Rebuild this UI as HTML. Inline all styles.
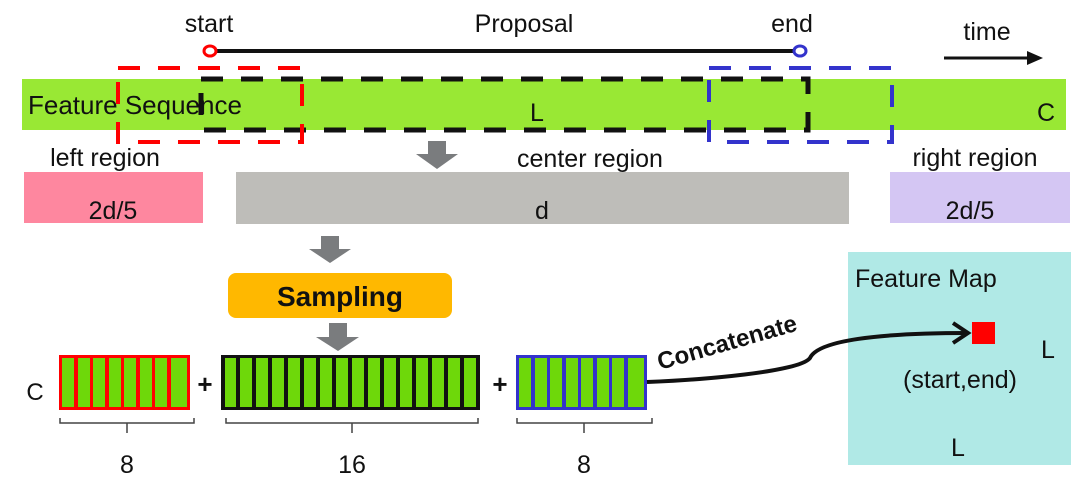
<!DOCTYPE html>
<html><head><meta charset="utf-8"><style>
body{margin:0;background:#fff}
svg{display:block}
text{font-family:"Liberation Sans",Arial,sans-serif;fill:#111}
</style></head><body>
<svg width="1083" height="490" viewBox="0 0 1083 490" xmlns="http://www.w3.org/2000/svg">
<!-- top labels -->
<text x="209" y="32" font-size="25" text-anchor="middle">start</text>
<text x="524" y="32" font-size="25" text-anchor="middle">Proposal</text>
<text x="792" y="32" font-size="25" text-anchor="middle">end</text>
<text x="987" y="40" font-size="25" text-anchor="middle">time</text>
<line x1="215" y1="51" x2="794" y2="51" stroke="#111" stroke-width="4"/>
<ellipse cx="210" cy="51" rx="6" ry="5" fill="#fff" stroke="#f00" stroke-width="3"/>
<ellipse cx="800" cy="51" rx="6" ry="5" fill="#fff" stroke="#33c" stroke-width="3"/>
<line x1="944" y1="58" x2="1030" y2="58" stroke="#111" stroke-width="3"/>
<polygon points="1043,58 1027,51 1027,65" fill="#111"/>
<!-- feature sequence -->
<rect x="22" y="79" width="1044" height="51" fill="#99e834"/>
<text x="28" y="114" font-size="26">Feature Sequence</text>
<text x="537" y="121" font-size="25" text-anchor="middle">L</text>
<text x="1046" y="121" font-size="25" text-anchor="middle">C</text>
<rect x="201" y="79" width="607" height="51" fill="none" stroke="#111" stroke-width="5" stroke-dasharray="22,18"/>
<rect x="118" y="68" width="184" height="74" fill="none" stroke="#f00" stroke-width="4" stroke-dasharray="22,18"/>
<rect x="709" y="68" width="183" height="74" fill="none" stroke="#33c" stroke-width="4" stroke-dasharray="22,18"/>
<!-- regions -->
<text x="105" y="166" font-size="25" text-anchor="middle">left region</text>
<text x="590" y="167" font-size="25" text-anchor="middle">center region</text>
<text x="975" y="166" font-size="25" text-anchor="middle">right region</text>
<rect x="24" y="172" width="179" height="51" fill="#fe879f"/>
<rect x="236" y="172" width="613" height="52" fill="#bebdb9"/>
<rect x="890" y="172" width="180" height="51" fill="#d4c6f3"/>
<text x="113" y="219" font-size="25" text-anchor="middle">2d/5</text>
<text x="542" y="219" font-size="25" text-anchor="middle">d</text>
<text x="970" y="219" font-size="25" text-anchor="middle">2d/5</text>
<!-- gray arrows -->
<polygon points="428,141 446,141 446,154 458,154 437,169 416,154 428,154" fill="#7a7c7e"/>
<polygon points="321,236 339,236 339,249 351,249 330,263 309,249 321,249" fill="#7a7c7e"/>
<polygon points="329,323 347,323 347,337 359,337 338,351 316,337 329,337" fill="#7a7c7e"/>
<!-- sampling -->
<rect x="228" y="273" width="224" height="45" rx="8" fill="#ffb800"/>
<text x="340" y="306" font-size="28" font-weight="bold" text-anchor="middle">Sampling</text>
<!-- feature vectors -->
<text x="35" y="400" font-size="24" text-anchor="middle">C</text>
<text x="205" y="393" font-size="26" font-weight="bold" text-anchor="middle">+</text>
<text x="500" y="393" font-size="26" font-weight="bold" text-anchor="middle">+</text>
<rect x="59" y="355" width="131" height="55" fill="#f00"/>
<g fill="#6ed80a">
<rect x="62" y="358" width="12" height="49"/><rect x="78" y="358" width="12" height="49"/><rect x="93" y="358" width="12" height="49"/><rect x="109" y="358" width="12" height="49"/><rect x="124" y="358" width="12" height="49"/><rect x="140" y="358" width="12" height="49"/><rect x="155" y="358" width="12" height="49"/><rect x="171" y="358" width="16" height="49"/>
</g>
<rect x="221" y="355" width="259" height="55" fill="#111"/>
<g fill="#6ed80a">
<rect x="225" y="358" width="11" height="49"/><rect x="240" y="358" width="12" height="49"/><rect x="256" y="358" width="12" height="49"/><rect x="272" y="358" width="12" height="49"/><rect x="288" y="358" width="12" height="49"/><rect x="304" y="358" width="12" height="49"/><rect x="320" y="358" width="12" height="49"/><rect x="336" y="358" width="12" height="49"/><rect x="352" y="358" width="12" height="49"/><rect x="368" y="358" width="12" height="49"/><rect x="384" y="358" width="12" height="49"/><rect x="400" y="358" width="12" height="49"/><rect x="416" y="358" width="12" height="49"/><rect x="432" y="358" width="12" height="49"/><rect x="448" y="358" width="12" height="49"/><rect x="464" y="358" width="12" height="49"/>
</g>
<rect x="516" y="355" width="131" height="55" fill="#33c"/>
<g fill="#6ed80a">
<rect x="519" y="358" width="12" height="49"/><rect x="535" y="358" width="12" height="49"/><rect x="550" y="358" width="12" height="49"/><rect x="566" y="358" width="12" height="49"/><rect x="581" y="358" width="12" height="49"/><rect x="597" y="358" width="12" height="49"/><rect x="612" y="358" width="12" height="49"/><rect x="628" y="358" width="16" height="49"/>
</g>
<!-- braces -->
<g fill="none" stroke="#444" stroke-width="1.5">
<path d="M60,418 v5 h134 v-5 M127,423 v10"/>
<path d="M226,418 v5 h252 v-5 M352,423 v10"/>
<path d="M517,418 v5 h135 v-5 M584,423 v10"/>
</g>
<text x="127" y="473" font-size="25" text-anchor="middle">8</text>
<text x="352" y="473" font-size="25" text-anchor="middle">16</text>
<text x="584" y="473" font-size="25" text-anchor="middle">8</text>
<!-- feature map -->
<rect x="848" y="252" width="223" height="213" fill="#b0e9e6"/>
<text x="855" y="287" font-size="25">Feature Map</text>
<rect x="972" y="322" width="23" height="22" fill="#f00"/>
<text x="960" y="388" font-size="25" text-anchor="middle">(start,end)</text>
<text x="1048" y="358" font-size="25" text-anchor="middle">L</text>
<text x="958" y="456" font-size="25" text-anchor="middle">L</text>
<!-- concatenate -->
<path d="M647,382 C700,380 800,372 810,358 C818,340 880,333 968,333" fill="none" stroke="#111" stroke-width="4"/>
<path d="M953,323 L968,333 L953,343" fill="none" stroke="#111" stroke-width="4"/>
<text x="0" y="0" font-size="24" font-weight="bold" transform="translate(660,370) rotate(-16)">Concatenate</text>
</svg>
</body></html>
